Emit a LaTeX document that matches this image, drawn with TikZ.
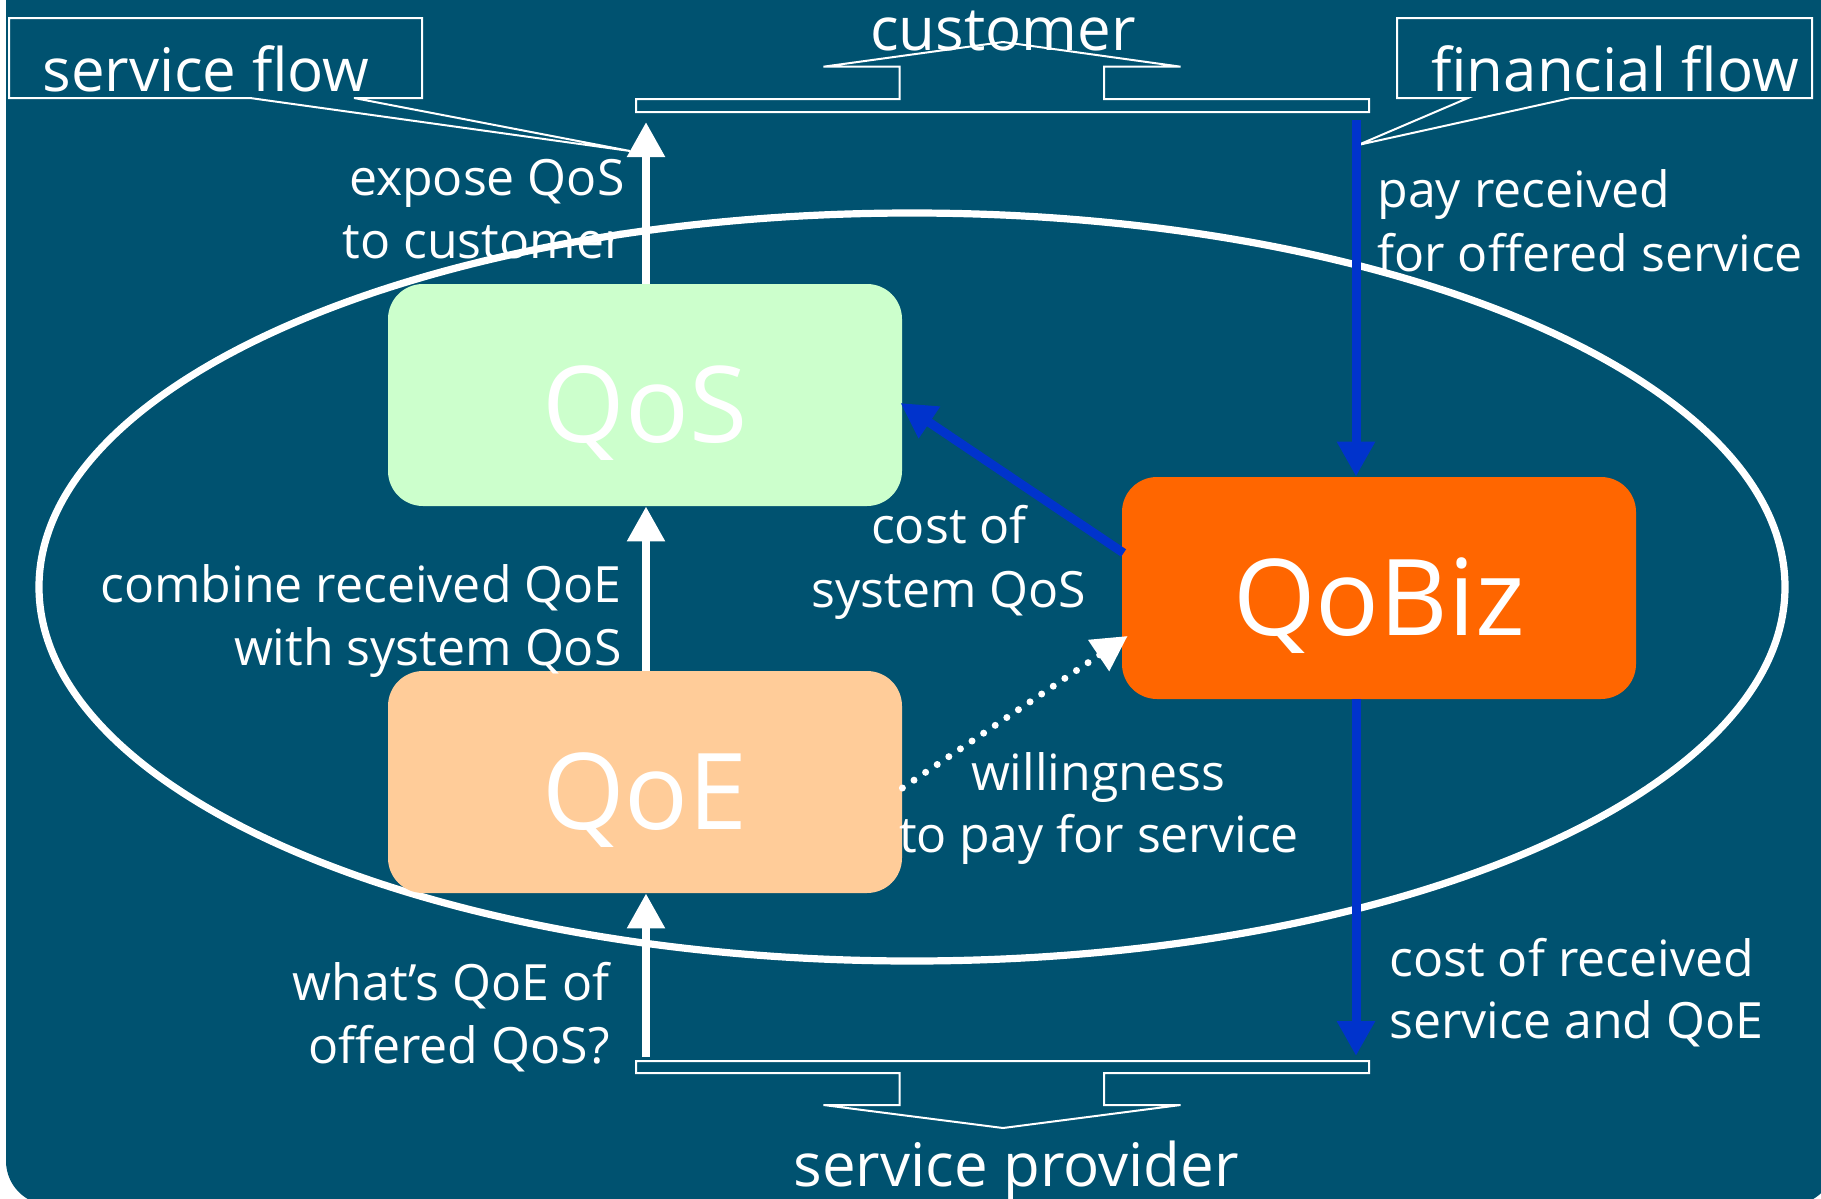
\documentclass[tikz,border=0pt]{standalone}
\usepackage{fontspec}
\setmainfont{Open Sans}
\usetikzlibrary{arrows.meta,calc}
\definecolor{panel}{RGB}{0,82,112}
\definecolor{qosfill}{RGB}{204,255,204}
\definecolor{qoefill}{RGB}{255,204,153}
\definecolor{qobizfill}{RGB}{255,102,0}
\definecolor{moneyblue}{RGB}{0,51,204}
\begin{document}
\begin{tikzpicture}[x=0.5pt,y=-0.5pt,
  block/.style={rounded corners=17.5pt, minimum width=257pt, minimum height=111pt,
    inner sep=0pt, text height=47pt, text depth=0pt, text=white,
    font=\fontsize{53pt}{60pt}\selectfont},
  lbl/.style={text=white, inner sep=0pt, font=\fontsize{25pt}{31.5pt}\selectfont},
  biglbl/.style={text=white, inner sep=0pt, font=\fontsize{30pt}{36pt}\selectfont},
  callout/.style={draw=white, line width=1pt, line join=miter},
  warrow/.style={draw=white, line width=4.2pt, -{Triangle[width=18pt,length=17.5pt]}},
  barrow/.style={draw=moneyblue, line width=4.5pt, -{Triangle[width=18pt,length=17.5pt]}},
  darrow/.style={draw=white, line width=3.5pt, line cap=round, dash pattern=on 0pt off 7pt,
    -{Triangle[width=18pt,length=17.5pt]}}]

% page and panel
\useasboundingbox (0,0) rectangle (1821,1199);
\fill[white] (0,0) rectangle (1821,1199);
\fill[panel, rounded corners=22pt] (6,-60) rectangle (1835,1205);

% surrounding ellipse
\draw[white, line width=3.6pt] (912,587) ellipse [x radius=436.5pt, y radius=187pt];

% the three quality blocks
\node[block, fill=qosfill] (QoS) at (645,395) {QoS};
\node[block, fill=qoefill] (QoE) at (645,782) {QoE};
\node[block, fill=qobizfill] (QoBiz) at (1379,588) {QoBiz};

% customer bracket
\draw[callout] (636,112) -- (636,99) -- (899.5,99) -- (899.5,66.7) -- (823.5,66.7)
  -- (1003,42) -- (1180.6,66.7) -- (1104,66.7) -- (1104,99) -- (1369,99)
  -- (1369,112) -- cycle;
\node[biglbl, anchor=base] (customer) at (1003,50) {customer};

% service provider bracket
\draw[callout] (636,1061) -- (1369,1061) -- (1369,1073) -- (1104,1073) -- (1104,1105)
  -- (1180.6,1105) -- (1003,1128) -- (823.5,1105) -- (899.5,1105) -- (899.5,1073)
  -- (636,1073) -- cycle;
\node[biglbl, anchor=base] (provider) at (1016,1186) {service provider};

% flow callouts
\draw[callout] (9,18) -- (422,18) -- (422,98) -- (354,98) -- (630,151) -- (250,98)
  -- (9,98) -- cycle;
\node[biglbl, anchor=base west] (svcflow) at (42,91) {service flow};
\draw[callout] (1397,18) -- (1812,18) -- (1812,98) -- (1571,98) -- (1358,145)
  -- (1468,98) -- (1397,98) -- cycle;
\node[biglbl, anchor=base west] (finflow) at (1431,91) {financial flow};

% arrow end points on the brackets
\coordinate (custL) at (646,122);
\coordinate (custR) at (1356,120);
\coordinate (provL) at (646,1057);
\coordinate (provR) at (1356,1056);

% service flow
\draw[warrow] (QoS.north -| custL) -- (custL);
\draw[warrow] (QoE.north -| custL) -- (QoS.south -| custL);
\draw[warrow] (provL) -- (provL |- QoE.south);

% financial flow
\draw[barrow] (custR) -- (custR |- QoBiz.north);
\draw[barrow] (provR |- QoBiz.south) -- (provR);
\draw[barrow] ($(QoBiz.west)+(2,-35)$) -- ($(QoS.east)+(-2,8)$);
\draw[darrow] ($(QoE.east)+(0,6)$) -- ($(QoBiz.west)+(6,48)$);

% labels
\node[lbl, anchor=base east] (expose1) at (625,195) {expose QoS};
\node[lbl, anchor=base east] (expose2) at (625,258) {to customer};
\node[lbl, anchor=base west] (pay1) at (1377,207) {pay received};
\node[lbl, anchor=base west] (pay2) at (1377,271) {for offered service};
\node[lbl, anchor=base east] (combine1) at (622,602) {combine received QoE};
\node[lbl, anchor=base east] (combine2) at (622,665) {with system QoS};
\node[lbl, anchor=base] (cost1) at (949,543) {cost of};
\node[lbl, anchor=base] (cost2) at (949,607) {system QoS};
\node[lbl, anchor=base] (will1) at (1098,790) {willingness};
\node[lbl, anchor=base] (will2) at (1099,852) {to pay for service};
\node[lbl, anchor=base east] (what1) at (610,1000) {what’s QoE of};
\node[lbl, anchor=base east] (what2) at (610,1063) {offered QoS?};
\node[lbl, anchor=base west] (rcv1) at (1389,976) {cost of received};
\node[lbl, anchor=base west] (rcv2) at (1389,1038) {service and QoE};
\end{tikzpicture}
\end{document}
